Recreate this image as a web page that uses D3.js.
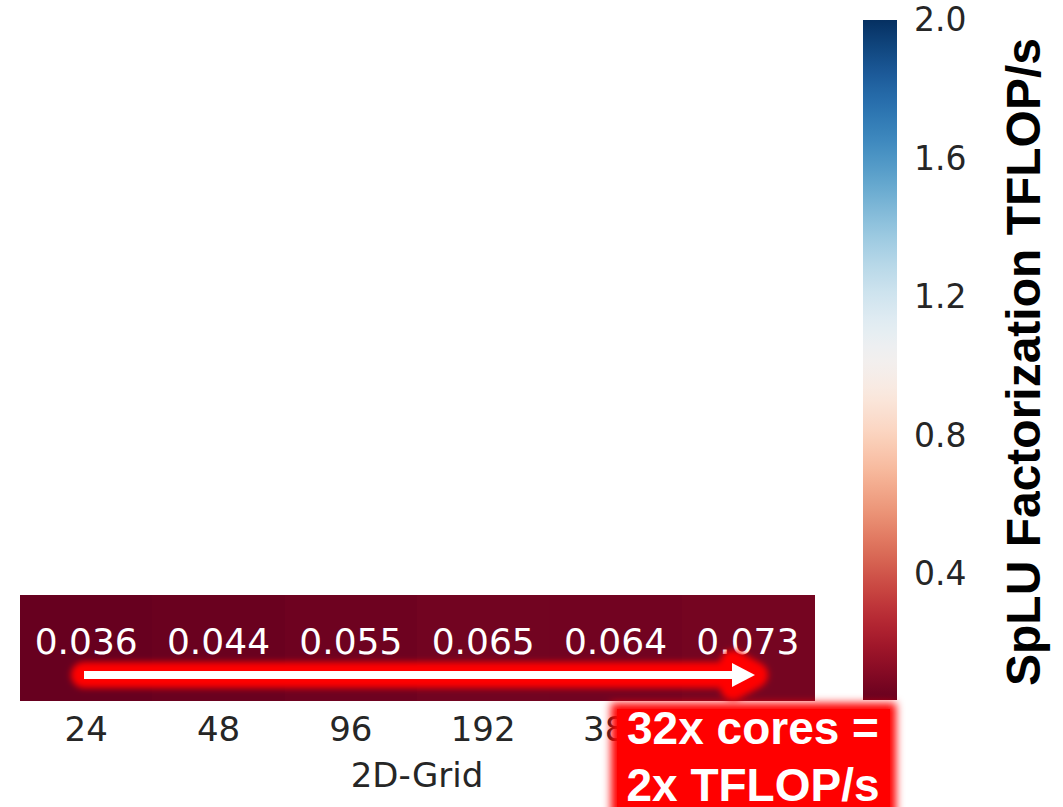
<!DOCTYPE html>
<html>
<head>
<meta charset="utf-8">
<script src="https://cdn.jsdelivr.net/npm/d3@7"></script>
<style>
  body { margin: 0; background: #fff; }
  svg { display: block; }
</style>
</head>
<body>
<div id="chart"></div>
<script>
// data
const grids = ['24', '48', '96', '192', '384', '768'];
const tflops = [0.036, 0.044, 0.055, 0.065, 0.064, 0.073];
const cbarTicks = [0.4, 0.8, 1.2, 1.6, 2.0];
const cbarMin = 0.036;
const cbarMax = 2.0;

const width = 1063;
const height = 807;

const svg = d3.select('#chart').append('svg')
  .attr('width', width)
  .attr('height', height);

const defs = svg.append('defs');
defs.append('filter').attr('id', 'glow')
  .attr('x', '-20%').attr('y', '-100%').attr('width', '140%').attr('height', '300%')
  .append('feGaussianBlur').attr('stdDeviation', 3);
defs.append('filter').attr('id', 'boxblur')
  .attr('x', '-20%').attr('y', '-20%').attr('width', '140%').attr('height', '140%')
  .append('feGaussianBlur').attr('stdDeviation', 4);

const colour = d3.scaleSequential(d3.interpolateRdBu).domain([cbarMin, cbarMax]);

// heatmap (one row)
const x = d3.scaleBand()
  .domain(grids)
  .range([20, 814]);
const rowTop = 595;
const rowBottom = 701;

svg.append('g')
  .attr('shape-rendering', 'crispEdges')
  .selectAll('rect')
  .data(tflops)
  .enter().append('rect')
  .attr('x', (d, i) => x(grids[i]))
  .attr('y', rowTop)
  .attr('width', x.bandwidth() + 1)
  .attr('height', rowBottom - rowTop)
  .attr('fill', d => colour(d));

svg.append('g').selectAll('text')
  .data(tflops)
  .enter().append('text')
  .attr('x', (d, i) => x(grids[i]) + x.bandwidth() / 2)
  .attr('y', 641)
  .attr('text-anchor', 'middle')
  .attr('dominant-baseline', 'central')
  .attr('fill', '#fff')
  .style('font-family', 'DejaVu Sans')
  .style('font-size', '36px')
  .text(d => d3.format('.3f')(d));

// x axis
const xAxis = svg.append('g')
  .attr('transform', `translate(0,${rowBottom})`)
  .call(d3.axisBottom(x).tickSize(0).tickPadding(16));
xAxis.select('.domain').remove();
xAxis.selectAll('text')
  .attr('fill', '#262626')
  .style('font-family', 'DejaVu Sans')
  .style('font-size', '34px');

svg.append('text')
  .attr('x', (x.range()[0] + x.range()[1]) / 2)
  .attr('y', 787)
  .attr('text-anchor', 'middle')
  .attr('fill', '#262626')
  .style('font-family', 'DejaVu Sans')
  .style('font-size', '34px')
  .text('2D-Grid');

// arrow across the row
const arrowY = 675;
const arrowPath = `M84,${arrowY}H733V${arrowY - 12}L755,${arrowY}L733,${arrowY + 12}V${arrowY}Z`;
svg.append('path')
  .attr('d', arrowPath)
  .attr('fill', 'red')
  .attr('stroke', 'red')
  .attr('stroke-width', 26)
  .attr('stroke-linejoin', 'round')
  .attr('filter', 'url(#glow)');
svg.append('line')
  .attr('x1', 84).attr('x2', 735)
  .attr('y1', arrowY).attr('y2', arrowY)
  .attr('stroke', '#fff')
  .attr('stroke-width', 8);
svg.append('path')
  .attr('d', `M732,${arrowY - 12}L755,${arrowY}L732,${arrowY + 12}Z`)
  .attr('fill', '#fff');

// colorbar
const cbX = 863;
const cbW = 34;
const cy = d3.scaleLinear().domain([cbarMin, cbarMax]).range([700, 20]);

const grad = defs.append('linearGradient')
  .attr('id', 'cbar')
  .attr('x1', 0).attr('x2', 0).attr('y1', 1).attr('y2', 0);
grad.selectAll('stop')
  .data(d3.range(0, 1.0001, 0.02))
  .enter().append('stop')
  .attr('offset', d => d)
  .attr('stop-color', d => colour(cbarMin + d * (cbarMax - cbarMin)));

svg.append('rect')
  .attr('x', cbX)
  .attr('y', cy(cbarMax))
  .attr('width', cbW)
  .attr('height', cy(cbarMin) - cy(cbarMax))
  .attr('fill', 'url(#cbar)');

const cAxis = svg.append('g')
  .attr('transform', `translate(${cbX + cbW},0)`)
  .call(d3.axisRight(cy).tickValues(cbarTicks).tickFormat(d3.format('.1f')).tickSize(0).tickPadding(17));
cAxis.select('.domain').remove();
cAxis.selectAll('text')
  .attr('fill', '#262626')
  .style('font-family', 'DejaVu Sans')
  .style('font-size', '33px');

svg.append('text')
  .attr('transform', 'translate(1040,362) rotate(-90)')
  .attr('text-anchor', 'middle')
  .attr('fill', '#000')
  .style('font-family', 'Liberation Sans')
  .style('font-weight', 'bold')
  .style('font-size', '48px')
  .text('SpLU Factorization TFLOP/s');

// callout box
const box = svg.append('g');
box.append('rect')
  .attr('x', 611).attr('y', 703)
  .attr('width', 285).attr('height', 115)
  .attr('fill', 'red')
  .attr('filter', 'url(#boxblur)');
box.append('rect')
  .attr('x', 617).attr('y', 709)
  .attr('width', 273).attr('height', 110)
  .attr('fill', 'red');
box.selectAll('text')
  .data(['32x cores =', '2x TFLOP/s'])
  .enter().append('text')
  .attr('x', 753)
  .attr('y', (d, i) => 744 + i * 57)
  .attr('text-anchor', 'middle')
  .attr('fill', '#fff')
  .style('font-family', 'Liberation Sans')
  .style('font-weight', 'bold')
  .style('font-size', '46px')
  .text(d => d);
</script>
</body>
</html>
